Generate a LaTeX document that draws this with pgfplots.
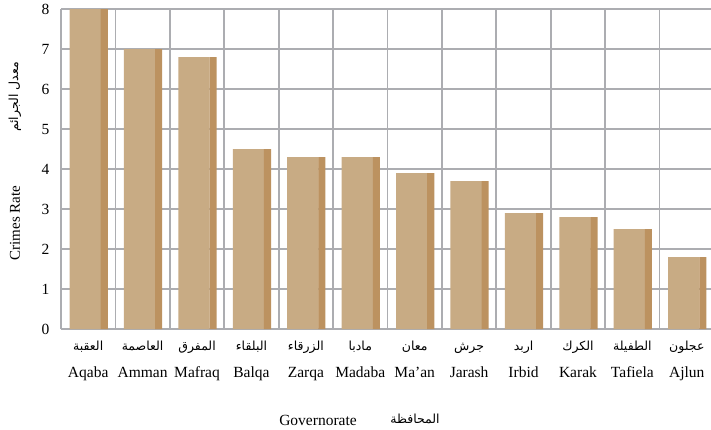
\documentclass[border=0pt]{standalone}
\usepackage{fontspec}
\setmainfont{Liberation Serif}
\newfontfamily\arabicfont[Script=Arabic]{DejaVu Sans}
\TeXXeTstate=1
\usepackage{pgfplots}
\pgfplotsset{compat=1.18}
\definecolor{face}{HTML}{C8AB84}
\definecolor{side}{HTML}{BC9260}
\definecolor{gridc}{HTML}{ACADB1}
\newcommand{\ar}[1]{{\arabicfont\fontsize{12.5}{15}\selectfont\beginR #1\endR}}
\newcommand{\art}[1]{\rule{0pt}{13pt}{\arabicfont\fontsize{12.5}{15}\selectfont\beginR #1\endR}}
\begin{document}
\begin{tikzpicture}[x=1pt,y=1pt]
\path[use as bounding box] (0,0) rectangle (711,-429);
\begin{axis}[
 at={(61pt,-329pt)}, anchor=south west,
 scale only axis, width=653pt, height=320pt,
 xmin=-0.5, xmax=11.5, ymin=0, ymax=8,
 xtick={0,...,11},
 xticklabels={{\art{العقبة}\\Aqaba},{\art{العاصمة}\\Amman},{\art{المفرق}\\Mafraq},{\art{البلقاء}\\Balqa},{\art{الزرقاء}\\Zarqa},{\art{مادبا}\\Madaba},{\art{معان}\\Ma’an},{\art{جرش}\\Jarash},{\art{اربد}\\Irbid},{\art{الكرك}\\Karak},{\art{الطفيلة}\\Tafiela},{\art{عجلون}\\Ajlun}},
 minor xtick={-0.5,0.5,...,10.5},
 xminorgrids, ymajorgrids, xmajorgrids=false,
 ytick={0,...,8},
 major tick length=0pt, minor tick length=0pt,
 grid style={gridc, line width=1.7pt},
 minor grid style={gridc, line width=1.7pt},
 axis x line*=bottom, axis y line*=left,
 axis line style={gridc, line width=1.8pt, -},
 /pgf/number format/assume math mode=true,
 ticklabel style={font=\fontsize{15.5}{27}\selectfont},
 xticklabel style={align=center, yshift=-5pt},
 yticklabel style={xshift=-8pt},
 clip=true,
]
\addplot[ybar, bar width=0.575, bar shift=-0.055, fill=face, draw=none] coordinates {
(0,8) (1,7) (2,6.8) (3,4.5) (4,4.3) (5,4.3) (6,3.9) (7,3.7) (8,2.9) (9,2.8) (10,2.5) (11,1.8)};
\addplot[ybar, bar width=0.13, bar shift=0.295, fill=side, draw=none] coordinates {
(0,8) (1,7) (2,6.8) (3,4.5) (4,4.3) (5,4.3) (6,3.9) (7,3.7) (8,2.9) (9,2.8) (10,2.5) (11,1.8)};
\end{axis}
\node[rotate=90, font=\fontsize{15}{18}\selectfont] at (15,-223) {Crimes Rate};
\node[rotate=90] at (15,-97) {\ar{معدل الجرائم}};
\node[font=\fontsize{15.5}{18}\selectfont] at (318,-420) {Governorate};
\node at (415,-419) {\ar{المحافظة}};
\end{tikzpicture}
\end{document}
